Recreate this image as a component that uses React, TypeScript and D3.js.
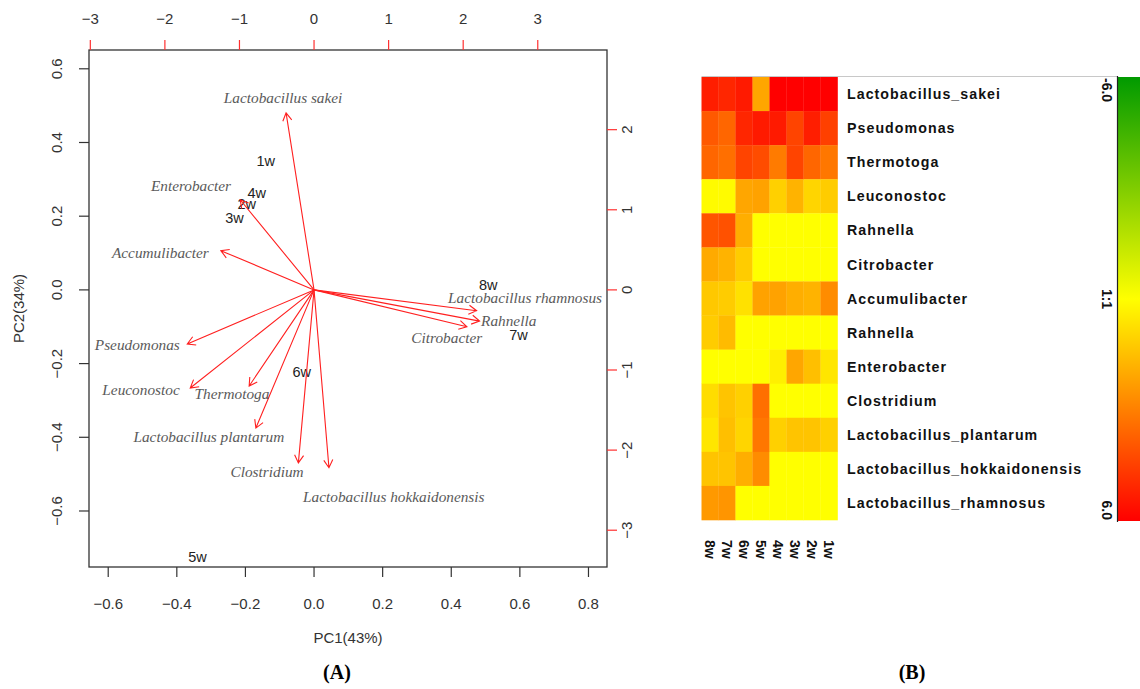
import * as d3 from "d3";

// ---- biplot data ----
const samples = ["1w", "2w", "3w", "4w", "5w", "6w", "7w", "8w"];
const pc1 = [-0.141, -0.196, -0.232, -0.167, -0.34, -0.036, 0.596, 0.508];
const pc2 = [0.349, 0.233, 0.196, 0.264, -0.726, -0.222, -0.122, 0.014];

const species = [
  "Lactobacillus sakei", "Enterobacter", "Accumulibacter", "Pseudomonas",
  "Leuconostoc", "Thermotoga", "Lactobacillus plantarum", "Clostridium",
  "Lactobacillus hokkaidonensis", "Lactobacillus rhamnosus", "Rahnella", "Citrobacter",
];
// loadings, in the units of the top / right axes
const loadX = [-0.375, -0.99, -1.25, -1.7, -1.66, -0.87, -0.78, -0.21, 0.2, 2.18, 2.22, 2.05];
const loadY = [2.21, 1.125, 0.49, -0.675, -1.225, -1.2, -1.725, -2.16, -2.22, -0.26, -0.39, -0.46];
const labelX = [-0.415, -1.65, -2.06, -2.37, -2.32, -1.1, -1.41, -0.63, 1.07, 2.83, 2.61, 1.78];
const labelY = [2.4, 1.3, 0.46, -0.69, -1.25, -1.3, -1.84, -2.275, -2.59, -0.1, -0.39, -0.6];

const xTicks = [-0.6, -0.4, -0.2, 0, 0.2, 0.4, 0.6, 0.8];
const yTicks = [-0.6, -0.4, -0.2, 0, 0.2, 0.4, 0.6];
const x2Ticks = [-3, -2, -1, 0, 1, 2, 3];
const y2Ticks = [-3, -2, -1, 0, 1, 2];

// ---- heatmap data ----
const heatCols = ["8w", "7w", "6w", "5w", "4w", "3w", "2w", "1w"];
const heatRows = [
  "Lactobacillus_sakei", "Pseudomonas", "Thermotoga", "Leuconostoc", "Rahnella",
  "Citrobacter", "Accumulibacter", "Rahnella", "Enterobacter", "Clostridium",
  "Lactobacillus_plantarum", "Lactobacillus_hokkaidonensis", "Lactobacillus_rhamnosus",
];
const heatValues = [
  [5.3, 5.1, 5.4, 2.1, 6.0, 6.0, 6.0, 6.0],
  [3.9, 3.6, 5.1, 5.4, 5.4, 4.4, 5.3, 4.5],
  [3.6, 3.4, 4.4, 4.2, 3.1, 4.4, 3.6, 3.2],
  [0.1, 0.1, 2.1, 2.2, 1.1, 1.8, 1.0, 1.2],
  [4.0, 4.1, 1.9, 0, 0, 0, 0, 0],
  [2.0, 1.8, 1.2, 0, 0, 0, 0, 0],
  [1.3, 1.2, 0.7, 2.2, 2.2, 1.9, 1.8, 2.7],
  [1.2, 1.6, 0, 0, 0, 0, 0, 0],
  [0, 0, 0, 0, 0.35, 2.1, 1.5, 0.6],
  [0.8, 1.4, 1.1, 3.4, 0, 0, 0, 0],
  [0.6, 1.5, 1.0, 3.2, 1.1, 1.4, 1.4, 1.1],
  [1.4, 1.4, 1.9, 2.7, 0, 0, 0, 0],
  [2.4, 2.5, 0, 0, 0, 0, 0, 0],
];
const legendLabels = ["-6.0", "1:1", "6.0"];

const fmt = (v: number) => d3.format(".1f")(v).replace("-", "\u2212");
const fmtInt = (v: number) => String(v).replace("-", "\u2212");

const SANS = "'Liberation Sans', Arial, sans-serif";
const SERIF = "'Liberation Serif', 'Times New Roman', serif";

function Biplot() {
  const box = { left: 89, right: 607, top: 50, bottom: 567 };
  const k = 4.6;
  const xDom: [number, number] = [-0.656, 0.854];
  const yDom: [number, number] = [-0.752, 0.651];
  const x = d3.scaleLinear().domain(xDom).range([box.left, box.right]);
  const y = d3.scaleLinear().domain(yDom).range([box.bottom, box.top]);
  const x2 = d3.scaleLinear().domain([xDom[0] * k, xDom[1] * k]).range([box.left, box.right]);
  const y2 = d3.scaleLinear().domain([yDom[0] * k, yDom[1] * k]).range([box.bottom, box.top]);

  const ox = x2(0), oy = y2(0);
  const head = 9;
  const arrows = species.map((s, i) => {
    const tx = x2(loadX[i]), ty = y2(loadY[i]);
    const a = Math.atan2(ty - oy, tx - ox);
    const p1 = [tx - head * Math.cos(a - Math.PI / 6), ty - head * Math.sin(a - Math.PI / 6)];
    const p2 = [tx - head * Math.cos(a + Math.PI / 6), ty - head * Math.sin(a + Math.PI / 6)];
    const path = d3.path();
    path.moveTo(ox, oy);
    path.lineTo(tx, ty);
    path.moveTo(p1[0], p1[1]);
    path.lineTo(tx, ty);
    path.lineTo(p2[0], p2[1]);
    return { s, d: path.toString(), lx: x2(labelX[i]), ly: y2(labelY[i]) };
  });

  return (
    <g>
      {samples.map((s, i) => (
        <text key={s} x={x(pc1[i])} y={y(pc2[i])} dy="0.35em" textAnchor="middle"
          fontFamily={SANS} fontSize={14.5} fill="#222">{s}</text>
      ))}
      {arrows.map((a) => (
        <path key={a.s} d={a.d} fill="none" stroke="#ff2020" strokeWidth={1.1} />
      ))}
      {arrows.map((a) => (
        <text key={a.s + "l"} x={a.lx} y={a.ly} dy="0.33em" textAnchor="middle"
          fontFamily={SERIF} fontStyle="italic" fontSize={15.3} fill="#5a5a5a">{a.s}</text>
      ))}
      <rect x={box.left} y={box.top} width={box.right - box.left} height={box.bottom - box.top}
        fill="none" stroke="#333" strokeWidth={1.3} />
      {/* bottom axis */}
      {xTicks.map((t) => (
        <g key={"xb" + t}>
          <line x1={x(t)} x2={x(t)} y1={box.bottom} y2={box.bottom + 10} stroke="#333" strokeWidth={1.2} />
          <text x={x(t)} y={604} dy="0.35em" textAnchor="middle" fontFamily={SANS} fontSize={15} fill="#333">{fmt(t)}</text>
        </g>
      ))}
      {/* left axis */}
      {yTicks.map((t) => (
        <g key={"yl" + t}>
          <line x1={box.left - 10} x2={box.left} y1={y(t)} y2={y(t)} stroke="#333" strokeWidth={1.2} />
          <text transform={`translate(57,${y(t)}) rotate(-90)`} dy="0.35em" textAnchor="middle"
            fontFamily={SANS} fontSize={15} fill="#333">{fmt(t)}</text>
        </g>
      ))}
      {/* top axis */}
      {x2Ticks.map((t) => (
        <g key={"xt" + t}>
          <line x1={x2(t)} x2={x2(t)} y1={box.top - 10} y2={box.top} stroke="#ff3030" strokeWidth={1.2} />
          <text x={x2(t)} y={19} dy="0.35em" textAnchor="middle" fontFamily={SANS} fontSize={15} fill="#333">{fmtInt(t)}</text>
        </g>
      ))}
      {/* right axis */}
      {y2Ticks.map((t) => (
        <g key={"yr" + t}>
          <line x1={box.right} x2={box.right + 10} y1={y2(t)} y2={y2(t)} stroke="#ff3030" strokeWidth={1.2} />
          <text transform={`translate(627,${y2(t)}) rotate(-90)`} dy="0.35em" textAnchor="middle"
            fontFamily={SANS} fontSize={15} fill="#333">{fmtInt(t)}</text>
        </g>
      ))}
      <text x={(box.left + box.right) / 2} y={638} dy="0.35em" textAnchor="middle"
        fontFamily={SANS} fontSize={15} fill="#333">PC1(43%)</text>
      <text transform={`translate(19,${(box.top + box.bottom) / 2}) rotate(-90)`} dy="0.35em" textAnchor="middle"
        fontFamily={SANS} fontSize={15} fill="#333">PC2(34%)</text>
      <text x={337} y={672} dy="0.35em" textAnchor="middle" fontFamily={SERIF} fontWeight="bold"
        fontSize={20} fill="#000">(A)</text>
    </g>
  );
}

function Heatmap() {
  const left = 701.5, right = 837.5, top = 77, bottom = 520;
  const barX = 1117.5;
  const xb = d3.scaleBand().domain(heatCols).range([left, right]);
  const yb = d3.scaleBand<number>().domain(d3.range(heatRows.length)).range([top, bottom]);
  const color = d3.scaleLinear<string>().domain([-6, 0, 6]).range(["#009a00", "#ffff00", "#ff0000"]);
  const legendY = d3.scaleLinear().domain([0, 2]).range([top, bottom + 1]);

  return (
    <g>
      <defs>
        <linearGradient id="cbar" x1="0" x2="0" y1="0" y2="1">
          <stop offset="0%" stopColor={color(-6)} />
          <stop offset="50%" stopColor={color(0)} />
          <stop offset="100%" stopColor={color(6)} />
        </linearGradient>
      </defs>
      <line x1={left} x2={barX} y1={top - 0.5} y2={top - 0.5} stroke="#c8c8c8" strokeWidth={1} />
      {heatValues.map((row, r) =>
        row.map((v, c) => (
          <rect key={r + "-" + c} x={xb(heatCols[c])} y={yb(r)} width={xb.bandwidth() + 0.3}
            height={yb.bandwidth() + 0.3} fill={color(v)} />
        ))
      )}
      {heatRows.map((name, r) => (
        <text key={"r" + r} x={847} y={(yb(r) ?? 0) + yb.bandwidth() / 2} dy="0.36em"
          fontFamily={SANS} fontWeight="bold" fontSize={14.2} letterSpacing={1.05} fill="#111">{name}</text>
      ))}
      {heatCols.map((c) => (
        <text key={"c" + c} transform={`translate(${(xb(c) ?? 0) + xb.bandwidth() / 2},540) rotate(90)`}
          dy="0.36em" fontFamily={SANS} fontWeight="bold" fontSize={14} fill="#111">{c}</text>
      ))}
      <rect x={barX} y={top} width={40} height={bottom + 1 - top} fill="url(#cbar)" />
      <line x1={barX} x2={barX} y1={top - 1} y2={bottom + 2} stroke="#222" strokeWidth={1.2} />
      {legendLabels.map((l, i) => (
        <text key={l} transform={`translate(1107,${legendY(i) + (i === 0 ? 1 : i === 2 ? -1 : 0)}) rotate(90)`} dy="0.36em"
          textAnchor={i === 0 ? "start" : i === 1 ? "middle" : "end"}
          fontFamily={SANS} fontWeight="bold" fontSize={14} fill="#111">{l}</text>
      ))}
      <text x={912} y={672} dy="0.35em" textAnchor="middle" fontFamily={SERIF} fontWeight="bold"
        fontSize={20} fill="#000">(B)</text>
    </g>
  );
}

export default function App() {
  return (
    <div style={{ position: "absolute", left: 0, top: 0 }}>
      <svg width={1140} height={689} viewBox="0 0 1140 689" style={{ display: "block", background: "#fff" }}>
        <Biplot />
        <Heatmap />
      </svg>
    </div>
  );
}
